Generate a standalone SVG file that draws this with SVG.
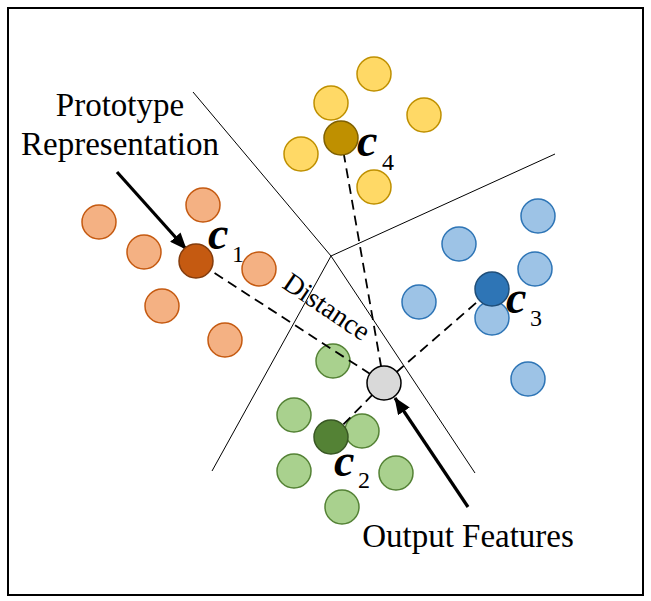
<svg xmlns="http://www.w3.org/2000/svg" width="651" height="601" viewBox="0 0 651 601">
<style>
  .bd{fill:none;stroke:#000;stroke-width:1}
  .dash{fill:none;stroke:#000;stroke-width:1.8;stroke-dasharray:10 6}
  .arr{fill:none;stroke:#000;stroke-width:3.2}
  .o{fill:#F4B183;stroke:#C55A11;stroke-width:1.5}
  .oc{fill:#C55A11;stroke:#843C0C;stroke-width:1.5}
  .y{fill:#FFD966;stroke:#BF9000;stroke-width:1.5}
  .yc{fill:#BF9000;stroke:#7F6000;stroke-width:1.5}
  .b{fill:#9DC3E6;stroke:#2E75B6;stroke-width:1.5}
  .bc{fill:#2E75B6;stroke:#1F4E79;stroke-width:1.5}
  .g{fill:#A9D18E;stroke:#548235;stroke-width:1.5}
  .gc{fill:#548235;stroke:#385723;stroke-width:1.5}
  .out{fill:#D9D9D9;stroke:#000;stroke-width:1.5}
  text{font-family:'Liberation Serif','Times New Roman',Tinos,'Nimbus Roman','DejaVu Serif',serif;fill:#000}
  .t{font-size:33px}
  .c{font-size:46px;font-weight:bold;font-style:italic}
  .s{font-size:24px}
</style>
<defs>
  <marker id="ah" markerUnits="userSpaceOnUse" markerWidth="18" markerHeight="14" refX="16" refY="7" orient="auto">
    <path d="M0,0 L17,7 L0,14 Z" fill="#000"/>
  </marker>
</defs>
<rect x="8" y="8" width="635" height="587" fill="#fff" stroke="#000" stroke-width="2"/>
<g id="boundaries">
  <line class="bd" x1="193" y1="92" x2="331" y2="256"/>
  <line class="bd" x1="331" y1="256" x2="555" y2="154"/>
  <line class="bd" x1="331" y1="256" x2="212" y2="471"/>
  <line class="bd" x1="331" y1="256" x2="475" y2="473"/>
</g>
<g id="cluster-orange">
  <circle class="o" cx="99" cy="222" r="17"/>
  <circle class="o" cx="203" cy="205" r="17"/>
  <circle class="o" cx="144" cy="252" r="17"/>
  <circle class="o" cx="259" cy="269" r="17"/>
  <circle class="o" cx="162" cy="306" r="17"/>
  <circle class="o" cx="225" cy="340" r="17"/>
</g>
<g id="cluster-yellow">
  <circle class="y" cx="374" cy="74" r="17"/>
  <circle class="y" cx="331" cy="103" r="17"/>
  <circle class="y" cx="424" cy="115" r="17"/>
  <circle class="y" cx="301" cy="154" r="17"/>
  <circle class="y" cx="374" cy="187" r="17"/>
</g>
<g id="cluster-blue">
  <circle class="b" cx="538" cy="216" r="17"/>
  <circle class="b" cx="459" cy="244" r="17"/>
  <circle class="b" cx="535" cy="269" r="17"/>
  <circle class="b" cx="419" cy="302" r="17"/>
  <circle class="b" cx="492" cy="318" r="17"/>
  <circle class="b" cx="528" cy="379" r="17"/>
</g>
<g id="cluster-green">
  <circle class="g" cx="333" cy="361" r="17"/>
  <circle class="g" cx="294" cy="415" r="17"/>
  <circle class="g" cx="362" cy="431" r="17"/>
  <circle class="g" cx="294" cy="471" r="17"/>
  <circle class="g" cx="396" cy="473" r="17"/>
  <circle class="g" cx="342" cy="507" r="17"/>
</g>
<g id="connectors">
  <line class="dash" x1="384" y1="383" x2="196" y2="261"/>
  <line class="dash" x1="384" y1="383" x2="341" y2="138"/>
  <line class="dash" x1="384" y1="383" x2="492" y2="289"/>
  <line class="dash" x1="384" y1="383" x2="331" y2="437"/>
  <line class="arr" x1="117" y1="172" x2="186" y2="249" marker-end="url(#ah)"/>
  <line class="arr" x1="468" y1="507" x2="395" y2="398" marker-end="url(#ah)"/>
</g>
<g id="c1">
  <circle class="oc" cx="196" cy="261" r="17"/>
  <text class="c" x="208" y="249">c</text>
  <text class="s" x="232" y="262">1</text>
</g>
<g id="c4">
  <circle class="yc" cx="341" cy="138" r="17"/>
  <text class="c" x="357" y="156">c</text>
  <text class="s" x="382" y="170">4</text>
</g>
<g id="c3">
  <circle class="bc" cx="492" cy="289" r="17"/>
  <text class="c" x="506" y="313">c</text>
  <text class="s" x="530" y="326">3</text>
</g>
<g id="c2">
  <circle class="gc" cx="331" cy="437" r="17"/>
  <text class="c" x="334" y="476">c</text>
  <text class="s" x="358" y="488">2</text>
</g>
<g id="output">
  <circle class="out" cx="384" cy="383" r="17"/>
</g>
<g id="labels">
  <text class="t" x="120" y="116" text-anchor="middle">Prototype</text>
  <text class="t" x="120" y="155" text-anchor="middle">Representation</text>
  <text class="t" x="468" y="547" text-anchor="middle">Output Features</text>
  <text class="t" style="font-size:28px" transform="translate(281,287) rotate(34)">Distance</text>
</g>
</svg>
